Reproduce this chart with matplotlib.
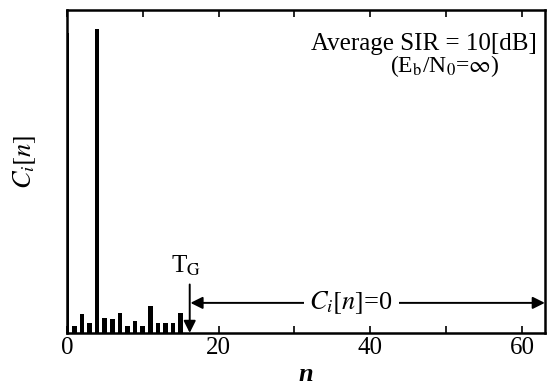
import matplotlib
matplotlib.use('Agg')
import matplotlib.pyplot as plt
import numpy as np

plt.rcParams['font.family'] = ['Liberation Serif', 'DejaVu Serif']
plt.rcParams['mathtext.fontset'] = 'stix'

# channel impulse response estimate, normalised to the axis height
n = np.arange(16)
c = [0.93, 0.022, 0.059, 0.031, 0.94, 0.046, 0.043, 0.062,
     0.022, 0.037, 0.022, 0.084, 0.031, 0.031, 0.031, 0.062]
tg = 16
n_max = 63

fig = plt.figure(figsize=(5.52, 3.88), dpi=100)
ax = fig.add_axes([0.121, 0.142, 0.866, 0.832])

ax.bar(n, c, width=0.6, color='black', zorder=3)

ax.set_xlim(0, n_max)
ax.set_ylim(0, 1)
ax.set_xticks([0, 20, 40, 60])
ax.set_xticks([10, 30, 50], minor=True)
ax.set_yticks([])
ax.tick_params(axis='x', which='both', direction='in', top=True, length=5,
               width=1.2, labelsize=18, pad=3)
for s in ax.spines.values():
    s.set_linewidth(1.8)

ax.set_xlabel('n', fontsize=19, style='italic', weight='bold', labelpad=3)
ax.set_ylabel(r'$C_i[n]$', fontsize=19)
ax.yaxis.set_label_coords(-0.06, 0.53)

# T_G marker
ax.annotate('', xy=(tg + 0.2, 0.0), xytext=(tg + 0.2, 0.15),
            arrowprops=dict(arrowstyle='-|>', color='black', lw=1.4,
                            mutation_scale=18, shrinkA=0, shrinkB=0))
ax.text(tg - 0.3, 0.17, r'T$_\mathrm{G}$', fontsize=18, ha='center', va='bottom')

# C_i[n]=0 region
ax.annotate('', xy=(tg + 0.3, 0.093), xytext=(n_max, 0.093),
            arrowprops=dict(arrowstyle='<|-|>', color='black', lw=1.4,
                            mutation_scale=18, shrinkA=0, shrinkB=0))
ax.text(37.5, 0.093, r'$C_i[n]$=0', fontsize=19, ha='center', va='center',
        bbox=dict(facecolor='white', edgecolor='none', pad=4))

ax.text(0.983, 0.895, 'Average SIR = 10[dB]', transform=ax.transAxes,
        fontsize=18, ha='right', va='center')
ax.text(0.79, 0.827, r'(E$_\mathrm{b}$/N$_0$=$\infty$)', transform=ax.transAxes,
        fontsize=17, ha='center', va='center')

fig.savefig('out.png', dpi=100)
